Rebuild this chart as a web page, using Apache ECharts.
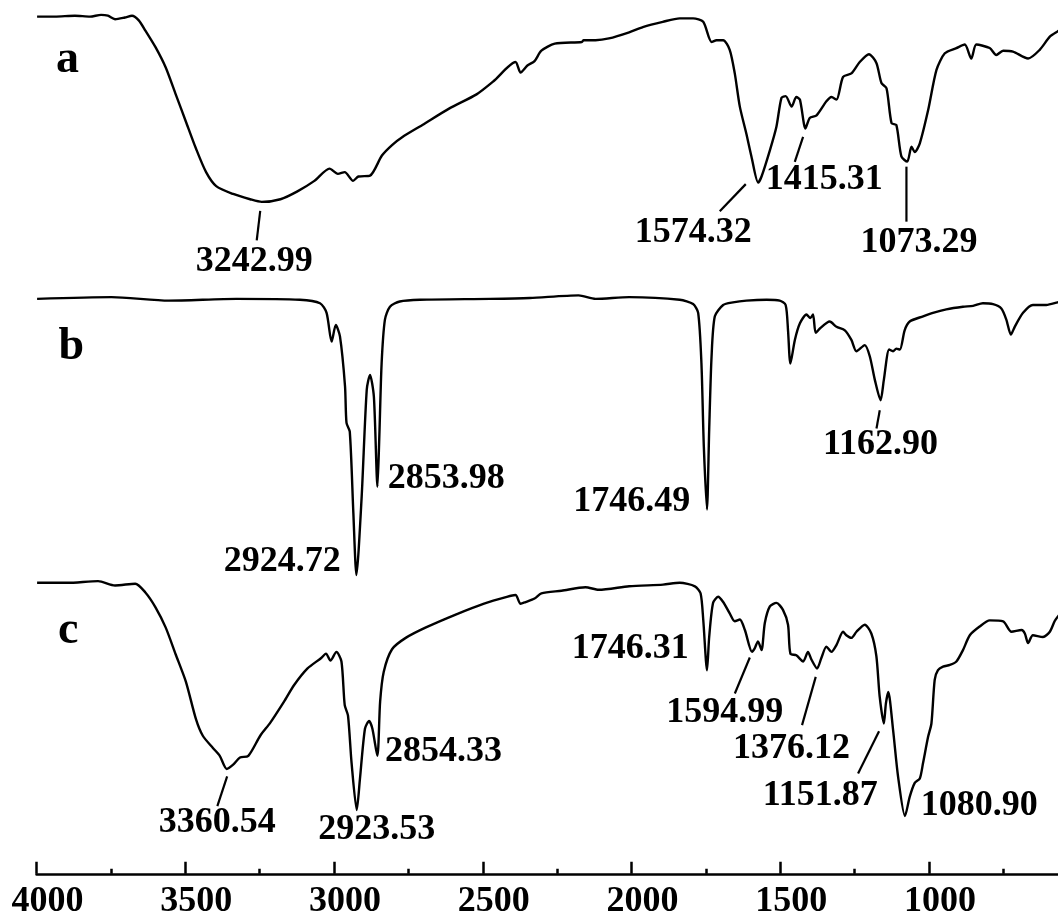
<!DOCTYPE html>
<html>
<head>
<meta charset="utf-8">
<title>FTIR spectra a, b, c</title>
<script src="https://cdn.jsdelivr.net/npm/echarts@6/dist/echarts.min.js"></script>
<style>
  html, body { margin: 0; padding: 0; background: #fff; }
  #chart { width: 1058px; height: 919px; }
</style>
</head>
<body>
<div id="chart"></div>
<script>
// Spectra as [wavenumber (cm-1), stacked transmittance (a.u.)]
const spectrumA = [
  [3998, 98.1], [3938, 98.1], [3871, 98.2], [3820, 98.1], [3783, 98.3], [3760, 98.2], [3736, 97.8],
  [3703, 98.0], [3679, 98.2], [3657, 97.7], [3634, 96.5], [3600, 94.6], [3566, 92.3], [3532, 89.2],
  [3498, 86.1], [3464, 83.0], [3430, 80.3], [3396, 78.7], [3339, 77.8], [3282, 77.2], [3242.99, 76.9],
  [3180, 77.2], [3123, 78.1], [3066, 79.3], [3015, 80.7], [2987, 80.1], [2964, 80.3], [2936, 79.3],
  [2918, 79.8], [2879, 79.9], [2839, 82.2], [2805, 83.4], [2771, 84.3], [2703, 85.7], [2612, 87.6],
  [2521, 89.2], [2464, 90.7], [2390, 92.9], [2373, 91.7], [2350, 92.5], [2326, 93.0], [2303, 94.2],
  [2258, 95.0], [2167, 95.2], [2161, 95.4], [2121, 95.4], [2076, 95.6], [2008, 96.3], [1962, 96.9],
  [1895, 97.5], [1838, 97.9], [1793, 97.9], [1759, 97.5], [1731, 95.2], [1714, 95.4], [1692, 95.4],
  [1670, 94.3], [1653, 91.6], [1636, 87.8], [1614, 84.7], [1597, 82.1], [1574.32, 79.1], [1563, 79.8],
  [1535, 82.8], [1513, 85.5], [1496, 88.8], [1482, 89.0], [1462, 87.8], [1446, 88.9], [1434, 88.6],
  [1415.31, 85.3], [1401, 86.5], [1378, 86.8], [1345, 88.4], [1328, 88.9], [1311, 88.6], [1289, 91.2],
  [1261, 91.6], [1233, 92.9], [1202, 93.8], [1177, 92.8], [1160, 90.5], [1143, 89.9], [1126, 85.9],
  [1110, 85.7], [1093, 82.1], [1073.29, 81.5], [1059, 83.2], [1048, 82.6], [1031, 83.6], [1003, 87.4],
  [975, 92.0], [947, 93.9], [908, 94.5], [880, 94.9], [858, 93.3], [841, 94.9], [796, 94.5], [774, 93.7],
  [751, 94.2], [718, 94.1], [667, 93.3], [628, 94.3], [594, 95.8], [568, 96.4], [544, 96.9]
];

const spectrumB = [
  [3998, 65.8], [3748, 66.0], [3555, 65.6], [3328, 65.8], [3115, 65.7], [3047, 65.3], [3025, 64.2],
  [3008, 60.9], [2994, 62.8], [2980, 61.5], [2963, 55.8], [2958, 51.6], [2947, 50.6], [2935, 41.3],
  [2924.72, 34.2], [2907, 43.2], [2890, 55.4], [2879, 57.1], [2866, 54.6], [2853.98, 44.3], [2848, 49.7],
  [2840, 58.4], [2829, 63.4], [2812, 64.9], [2779, 65.5], [2711, 65.7], [2475, 65.8], [2342, 65.9],
  [2178, 66.2], [2121, 65.8], [2008, 66.0], [1838, 65.7], [1793, 65.2], [1776, 64.2], [1765, 58.4],
  [1757, 48.9], [1746.49, 41.7], [1739, 50.8], [1731, 59.2], [1720, 63.8], [1692, 65.1], [1659, 65.4],
  [1614, 65.6], [1546, 65.7], [1502, 65.6], [1482, 65.1], [1474, 62.2], [1466, 58.4], [1451, 61.1],
  [1434, 63.0], [1412, 64.0], [1399, 63.6], [1390, 64.0], [1381, 61.9], [1367, 62.4], [1334, 63.2],
  [1311, 62.6], [1283, 62.2], [1261, 61.1], [1244, 59.8], [1216, 60.5], [1199, 59.2], [1182, 56.5],
  [1162.90, 54.2], [1152, 56.5], [1134, 60.0], [1121, 59.8], [1110, 60.1], [1098, 60.0], [1082, 62.2],
  [1065, 63.2], [1020, 63.8], [987, 64.2], [942, 64.6], [886, 64.9], [852, 65.0], [819, 65.3],
  [785, 65.2], [757, 64.7], [740, 63.4], [725, 61.7], [712, 62.6], [684, 64.2], [651, 65.1],
  [606, 65.1], [568, 65.4], [544, 65.6]
];

const spectrumC = [
  [3998, 33.3], [3896, 33.3], [3793, 33.5], [3736, 33.0], [3668, 33.2], [3634, 32.2], [3600, 30.5],
  [3566, 28.2], [3532, 25.1], [3498, 22.0], [3464, 17.7], [3441, 15.8], [3407, 14.4], [3384, 13.5],
  [3360.54, 12.0], [3339, 12.5], [3316, 13.3], [3288, 13.5], [3248, 15.8], [3214, 17.3], [3168, 19.7],
  [3134, 21.6], [3089, 23.5], [3043, 24.7], [3027, 25.2], [3012, 24.4], [2992, 25.4], [2975, 24.3],
  [2964, 19.3], [2953, 18.1], [2941, 12.7], [2923.53, 7.3], [2913, 10.8], [2896, 16.6], [2882, 17.5],
  [2871, 16.6], [2854.33, 13.5], [2845, 19.7], [2833, 23.1], [2805, 25.7], [2759, 27.0], [2691, 28.2],
  [2589, 29.7], [2498, 30.9], [2419, 31.7], [2390, 31.9], [2373, 30.9], [2356, 31.1], [2326, 31.5],
  [2303, 32.1], [2235, 32.4], [2155, 32.8], [2110, 32.5], [2008, 32.9], [1894, 33.1], [1838, 33.3],
  [1787, 32.9], [1768, 32.1], [1759, 29.1], [1746.31, 23.3], [1739, 27.1], [1726, 31.0], [1709, 31.7],
  [1692, 31.1], [1670, 29.8], [1653, 28.9], [1636, 29.1], [1619, 27.9], [1594.99, 25.4], [1586, 25.8],
  [1575, 26.6], [1563, 25.6], [1552, 28.7], [1535, 30.6], [1513, 31.0], [1491, 30.2], [1474, 28.5],
  [1466, 25.2], [1446, 25.0], [1423, 24.3], [1407, 25.4], [1395, 24.5], [1376.12, 23.5], [1362, 24.7],
  [1345, 26.0], [1328, 25.4], [1311, 26.2], [1289, 27.7], [1278, 27.3], [1261, 27.0], [1244, 27.7],
  [1216, 28.5], [1194, 27.5], [1177, 24.9], [1166, 20.3], [1151.87, 17.2], [1145, 19.5], [1137, 20.8],
  [1121, 16.5], [1104, 11.1], [1080.90, 6.6], [1065, 8.8], [1048, 10.4], [1031, 10.9], [1020, 12.7],
  [1003, 15.7], [992, 17.2], [981, 22.2], [970, 23.3], [953, 23.7], [930, 23.9], [908, 24.3],
  [886, 25.6], [863, 27.3], [830, 28.3], [796, 29.0], [751, 28.9], [723, 27.7], [689, 27.9],
  [678, 27.5], [667, 26.4], [651, 27.3], [617, 27.1], [594, 27.7], [578, 28.9], [568, 29.4], [544, 30.4]
];

// Labelled band positions (cm-1)
const peaksA = [3242.99, 1574.32, 1415.31, 1073.29];
const peaksB = [2924.72, 2853.98, 1746.49, 1162.90];
const peaksC = [3360.54, 2923.53, 2854.33, 1746.31, 1594.99, 1376.12, 1151.87, 1080.90];

const xTickLabels = [4000, 3500, 3000, 2500, 2000, 1500, 1000];
const panelNames = ['a', 'b', 'c'];

// Placement of each band label, in pixels relative to the band minimum:
// leader line [x1, y1, x2, y2] (null = none) and text centre [x, y]
const placeA = [
  { line: [-1.5, 9, -5, 38.5], text: [-7.4, 60] },
  { line: [-12.4, 1.5, -38.4, 28.6], text: [-65, 50.3] },
  { line: [-2.4, 8.4, -10.7, 33.4], text: [18.8, 51.4] },
  { line: [-0.8, 5, -0.8, 60], text: [11.7, 80.8] }
];
const placeB = [
  { line: null, text: [-74.2, -13.5] },
  { line: null, text: [68.7, -8.4] },
  { line: null, text: [-75.1, -8.1] },
  { line: [-0.8, 10, -4.1, 28.3], text: [0, 45] }
];
const placeC = [
  { line: [0.4, 7.5, -9.4, 37.2], text: [-9.6, 54] },
  { line: null, text: [20.1, 19.5] },
  { line: null, text: [66.2, -4.2] },
  { line: null, text: [-76.8, -21.3] },
  { line: [-2.2, 5.6, -17.2, 41.6], text: [-27.3, 61.3] },
  { line: [-1.4, 8.4, -15.1, 56.7], text: [-25.7, 80.2] },
  { line: [-4.8, 7.7, -25.8, 50], text: [-63.6, 72.5] },
  { line: null, text: [74.2, -10] }
];

const FONT = '"Liberation Serif", "Times New Roman", serif';

function valueAt(spectrum, wn) {
  const hit = spectrum.find(p => p[0] === wn);
  return hit ? hit[1] : null;
}

function peakSeries(spectrum, peaks, place) {
  return {
    type: 'custom',
    coordinateSystem: 'cartesian2d',
    clip: false,
    silent: true,
    data: peaks.map(w => [w, valueAt(spectrum, w)]),
    encode: { x: 0, y: 1 },
    renderItem: function (params, api) {
      const p = api.coord([api.value(0), api.value(1)]);
      const lay = place[params.dataIndex];
      const children = [];
      if (lay.line) {
        children.push({
          type: 'line',
          shape: {
            x1: p[0] + lay.line[0], y1: p[1] + lay.line[1],
            x2: p[0] + lay.line[2], y2: p[1] + lay.line[3]
          },
          style: { stroke: '#000', lineWidth: 2.2 }
        });
      }
      children.push({
        type: 'text',
        x: p[0] + lay.text[0],
        y: p[1] + lay.text[1],
        style: {
          text: api.value(0).toFixed(2),
          fill: '#000',
          font: 'bold 36px ' + FONT,
          align: 'center',
          verticalAlign: 'middle'
        }
      });
      return { type: 'group', children: children };
    }
  };
}

function spectrumSeries(name, data) {
  return {
    name: name,
    type: 'line',
    data: data,
    showSymbol: false,
    symbol: 'none',
    silent: true,
    smooth: 0.25,
    lineStyle: { color: '#000', width: 2.4, join: 'round' },
    z: 3
  };
}

const chart = echarts.init(document.getElementById('chart'), null, { renderer: 'canvas' });

chart.setOption({
  animation: false,
  backgroundColor: '#fff',
  grid: { left: 36.5, right: -19.8, top: 0, bottom: 45.2, containLabel: false, outerBoundsMode: 'none' },
  xAxis: {
    type: 'value',
    inverse: true,
    min: 500,
    max: 4000,
    interval: 500,
    axisLine: { show: true, onZero: false, lineStyle: { color: '#000', width: 2.5 } },
    axisTick: { show: true, inside: true, length: 12, lineStyle: { color: '#000', width: 2.5 } },
    minorTick: { show: true, splitNumber: 2, length: 5, lineStyle: { color: '#000', width: 2.5 } },
    splitLine: { show: false },
    minorSplitLine: { show: false },
    axisLabel: {
      margin: 10,
      padding: [0, 0, 0, 22],
      color: '#000',
      fontFamily: FONT,
      fontWeight: 'bold',
      fontSize: 36,
      formatter: v => (xTickLabels.indexOf(v) >= 0 ? String(v) : '')
    }
  },
  yAxis: {
    type: 'value',
    min: 0,
    max: 100,
    show: false,
    splitLine: { show: false }
  },
  graphic: [
    { type: 'text', x: 67.5, y: 60, style: { text: panelNames[0], font: 'bold 46px ' + FONT, fill: '#000', align: 'center', verticalAlign: 'middle' } },
    { type: 'text', x: 71.2, y: 346.8, style: { text: panelNames[1], font: 'bold 46px ' + FONT, fill: '#000', align: 'center', verticalAlign: 'middle' } },
    { type: 'text', x: 68.1, y: 630.8, style: { text: panelNames[2], font: 'bold 46px ' + FONT, fill: '#000', align: 'center', verticalAlign: 'middle' } }
  ],
  series: [
    spectrumSeries('a', spectrumA),
    spectrumSeries('b', spectrumB),
    spectrumSeries('c', spectrumC),
    peakSeries(spectrumA, peaksA, placeA),
    peakSeries(spectrumB, peaksB, placeB),
    peakSeries(spectrumC, peaksC, placeC)
  ]
});
</script>
</body>
</html>
